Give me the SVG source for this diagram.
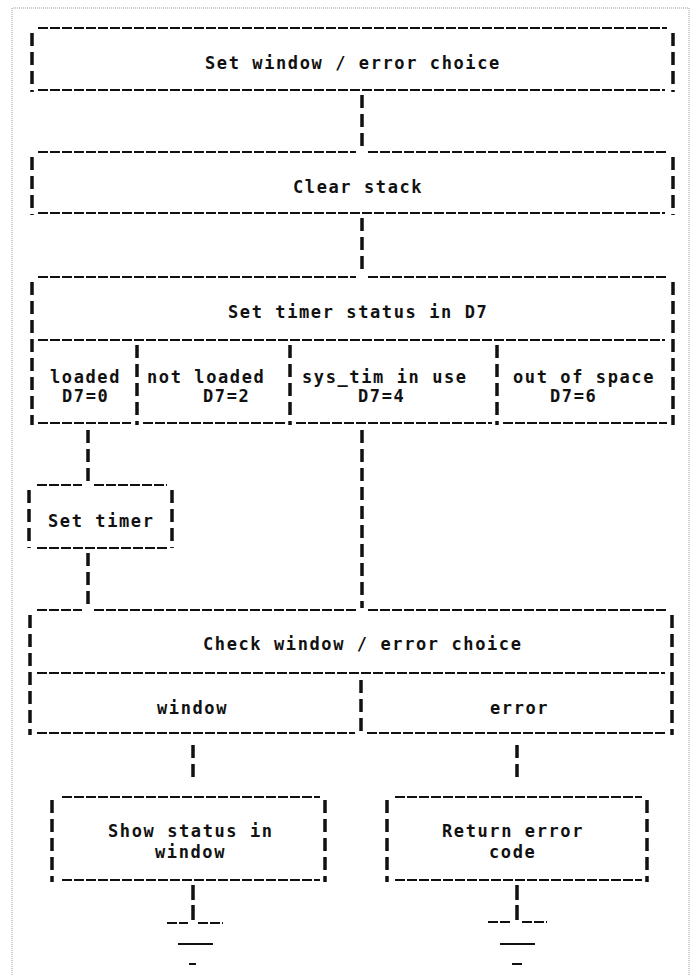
<svg xmlns="http://www.w3.org/2000/svg" width="691" height="975" viewBox="0 0 691 975">
<style>
.h{stroke:#111;stroke-width:2;stroke-dasharray:10 2;fill:none}
.v{stroke:#111;stroke-width:3.5;stroke-dasharray:13 6;fill:none}
.s{stroke:#111;stroke-width:2;fill:none}
.t{font-family:"DejaVu Sans Mono","Liberation Mono",monospace;font-weight:bold;font-size:17px;letter-spacing:1.6px;fill:#111}
.frame{stroke:#999;stroke-width:1;stroke-dasharray:1 1;fill:none}
</style>
<rect width="691" height="975" fill="#fff"/>
<path class="frame" d="M12,975 V8 H689 V975"/>

<g id="set-window">
<path class="h" d="M38,28 H667 M38,90 H665"/>
<path class="v" d="M32,33 V92 M673,33 V92"/>
<text class="t" x="205" y="69">Set window / error choice</text>
</g>

<g id="clear-stack">
<path class="h" d="M38,152 H356 M368,152 H667 M38,213 H665"/>
<path class="v" d="M32,157 V215 M673,157 V215"/>
<text class="t" x="293" y="193">Clear stack</text>
</g>

<g id="set-timer-status">
<path class="h" d="M38,277 H356 M368,277 H667 M38,340 H665 M38,423 H131 M143,423 H285 M296,423 H492 M503,423 H667"/>
<path class="v" d="M32,282 V425 M673,282 V425 M137,345 V425 M290,345 V425 M497,345 V425"/>
<text class="t" x="228" y="318">Set timer status in D7</text>
<text class="t" x="50" y="383">loaded</text>
<text class="t" x="62" y="402">D7=0</text>
<text class="t" x="147" y="383">not loaded</text>
<text class="t" x="203" y="402">D7=2</text>
<text class="t" x="302" y="383">sys_tim in use</text>
<text class="t" x="358" y="402">D7=4</text>
<text class="t" x="513" y="383">out of space</text>
<text class="t" x="550" y="402">D7=6</text>
</g>

<g id="set-timer">
<path class="h" d="M37,485 H82 M94,485 H167 M37,548 H167"/>
<path class="v" d="M29,490 V548 M172,490 V548"/>
<text class="t" x="48" y="527">Set timer</text>
</g>

<g id="check-window">
<path class="h" d="M37,610 H82 M94,610 H356 M368,610 H667 M37,673 H665 M37,733 H355 M367,733 H665"/>
<path class="v" d="M30,615 V735 M672,615 V735 M361,680 V735"/>
<text class="t" x="203" y="650">Check window / error choice</text>
<text class="t" x="157" y="714">window</text>
<text class="t" x="490" y="714">error</text>
</g>

<g id="show-status">
<path class="h" d="M62,797 H320 M62,880 H320"/>
<path class="v" d="M52,800 V882 M325,800 V882"/>
<text class="t" x="108" y="837">Show status in</text>
<text class="t" x="155" y="858">window</text>
</g>

<g id="return-error">
<path class="h" d="M395,797 H642 M395,880 H642"/>
<path class="v" d="M387,800 V882 M647,800 V882"/>
<text class="t" x="442" y="837">Return error</text>
<text class="t" x="489" y="858">code</text>
</g>

<g id="connectors">
<path class="v" d="M362,95 V150 M362,218 V275 M88,430 V485 M362,430 V608 M88,553 V608 M193,745 V778 M517,745 V778"/>
</g>

<g id="end-window">
<path class="v" d="M193,885 V925" style="stroke-dasharray:15 5"/>
<path class="h" d="M167,923 H188 M198,923 H223"/>
<path class="s" d="M178,944 H213 M189,964 H196"/>
</g>

<g id="end-error">
<path class="v" d="M517,885 V925" style="stroke-dasharray:15 5"/>
<path class="h" d="M488,922 H512 M522,922 H547"/>
<path class="s" d="M500,944 H535 M512,964 H522"/>
</g>
</svg>
